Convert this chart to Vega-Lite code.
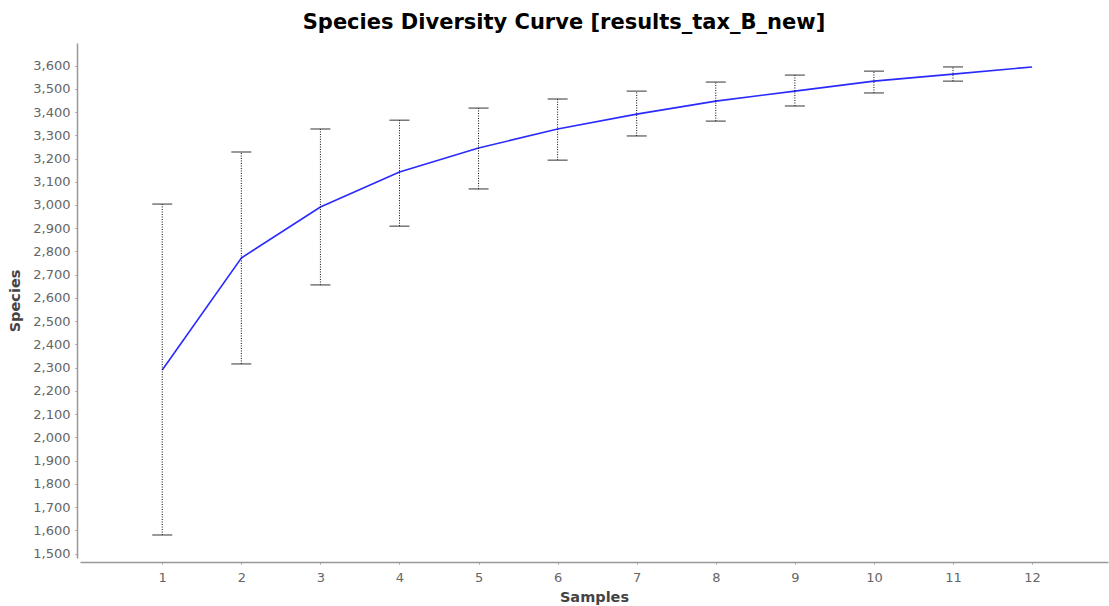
{
  "$schema": "https://vega.github.io/schema/vega-lite/v6.json",
  "width": 1028,
  "height": 515,
  "autosize": {"type": "none"},
  "padding": {"left": 80, "top": 43, "right": 1, "bottom": 48},
  "background": "white",
  "title": {
    "text": "Species Diversity Curve [results_tax_B_new]",
    "font": "DejaVu Sans",
    "fontSize": 21,
    "fontWeight": "bold",
    "color": "#000000",
    "anchor": "middle",
    "frame": "group",
    "dx": -30,
    "offset": 10
  },
  "config": {
    "view": {"stroke": null},
    "axis": {
      "grid": false,
      "labelFont": "DejaVu Sans",
      "labelFontSize": 13,
      "labelColor": "#666666",
      "labelOverlap": false,
      "domainColor": "#999999",
      "domainWidth": 1.5,
      "tickColor": "#999999",
      "tickSize": 2,
      "titleFont": "DejaVu Sans",
      "titleFontSize": 14.5,
      "titleFontWeight": "bold",
      "titleColor": "#444444",
      "labelFlush": false
    }
  },
  "data": {
    "values": [
      {"samples": 1, "species": 2290, "lo": 1580, "hi": 3004},
      {"samples": 2, "species": 2772, "lo": 2316, "hi": 3228},
      {"samples": 3, "species": 2991, "lo": 2656, "hi": 3327},
      {"samples": 4, "species": 3142, "lo": 2909, "hi": 3365},
      {"samples": 5, "species": 3245, "lo": 3069, "hi": 3417},
      {"samples": 6, "species": 3327, "lo": 3193, "hi": 3456},
      {"samples": 7, "species": 3391, "lo": 3297, "hi": 3490},
      {"samples": 8, "species": 3447, "lo": 3361, "hi": 3529},
      {"samples": 9, "species": 3490, "lo": 3426, "hi": 3559},
      {"samples": 10, "species": 3533, "lo": 3482, "hi": 3576},
      {"samples": 11, "species": 3563, "lo": 3533, "hi": 3594},
      {"samples": 12, "species": 3594, "lo": null, "hi": null}
    ]
  },
  "encoding": {
    "x": {
      "field": "samples",
      "type": "quantitative",
      "scale": {"domain": [-0.04, 12.96], "nice": false, "zero": false},
      "axis": {
        "title": "Samples",
        "values": [1, 2, 3, 4, 5, 6, 7, 8, 9, 10, 11, 12],
        "format": "d",
        "offset": 4,
        "labelPadding": 7,
        "titlePadding": 6
      }
    }
  },
  "layer": [
    {
      "mark": {"type": "line", "color": "#2a2aff", "strokeWidth": 1.6},
      "encoding": {
        "y": {
          "field": "species",
          "type": "quantitative",
          "scale": {"domain": [1481, 3697], "nice": false, "zero": false},
          "axis": {
            "title": "Species",
            "values": [1500, 1600, 1700, 1800, 1900, 2000, 2100, 2200, 2300, 2400, 2500, 2600, 2700, 2800, 2900, 3000, 3100, 3200, 3300, 3400, 3500, 3600],
            "format": ",d",
            "offset": 3,
            "labelPadding": 5,
            "titlePadding": 10
          }
        }
      }
    },
    {
      "transform": [{"filter": "datum.lo != null"}],
      "mark": {"type": "rule", "color": "#000000", "strokeWidth": 1, "strokeDash": [1, 1.5]},
      "encoding": {
        "y": {
          "field": "lo",
          "type": "quantitative",
          "scale": {"domain": [1481, 3697], "nice": false, "zero": false},
          "axis": {
            "title": "Species",
            "values": [1500, 1600, 1700, 1800, 1900, 2000, 2100, 2200, 2300, 2400, 2500, 2600, 2700, 2800, 2900, 3000, 3100, 3200, 3300, 3400, 3500, 3600],
            "format": ",d",
            "offset": 3,
            "labelPadding": 5,
            "titlePadding": 10
          }
        },
        "y2": {"field": "hi"}
      }
    },
    {
      "transform": [{"filter": "datum.lo != null"}],
      "mark": {"type": "tick", "orient": "horizontal", "size": 20, "thickness": 1, "color": "#333333", "opacity": 1},
      "encoding": {
        "y": {
          "field": "lo",
          "type": "quantitative",
          "scale": {"domain": [1481, 3697], "nice": false, "zero": false},
          "axis": {
            "title": "Species",
            "values": [1500, 1600, 1700, 1800, 1900, 2000, 2100, 2200, 2300, 2400, 2500, 2600, 2700, 2800, 2900, 3000, 3100, 3200, 3300, 3400, 3500, 3600],
            "format": ",d",
            "offset": 3,
            "labelPadding": 5,
            "titlePadding": 10
          }
        }
      }
    },
    {
      "transform": [{"filter": "datum.hi != null"}],
      "mark": {"type": "tick", "orient": "horizontal", "size": 20, "thickness": 1, "color": "#333333", "opacity": 1},
      "encoding": {
        "y": {
          "field": "hi",
          "type": "quantitative",
          "scale": {"domain": [1481, 3697], "nice": false, "zero": false},
          "axis": {
            "title": "Species",
            "values": [1500, 1600, 1700, 1800, 1900, 2000, 2100, 2200, 2300, 2400, 2500, 2600, 2700, 2800, 2900, 3000, 3100, 3200, 3300, 3400, 3500, 3600],
            "format": ",d",
            "offset": 3,
            "labelPadding": 5,
            "titlePadding": 10
          }
        }
      }
    }
  ]
}
